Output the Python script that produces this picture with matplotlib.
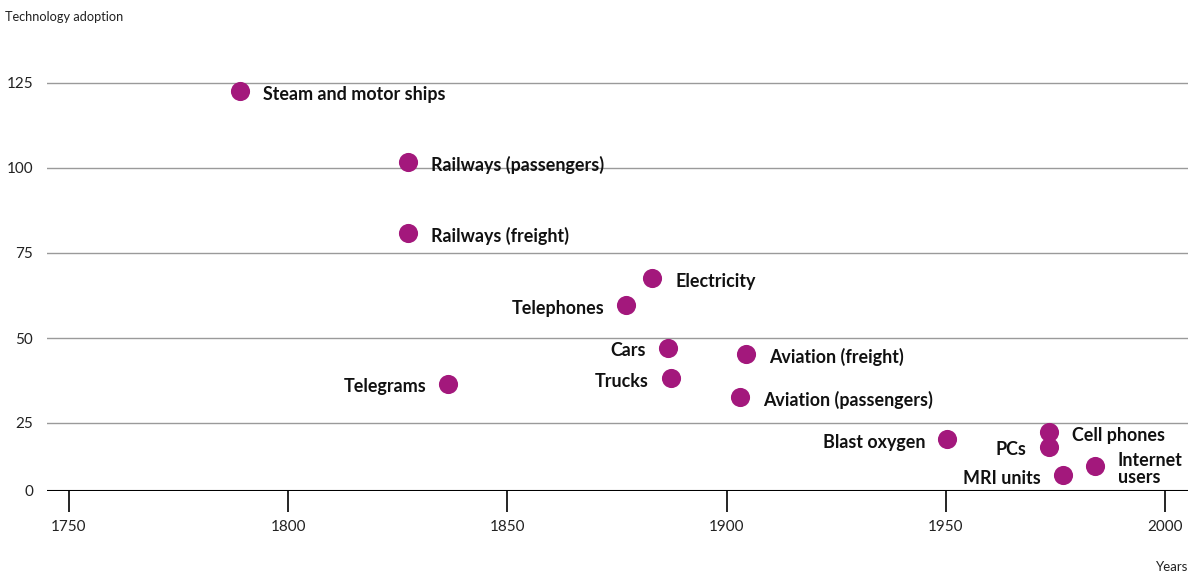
import matplotlib
matplotlib.use("Agg")
import matplotlib.pyplot as plt
import numpy as np

plt.rcParams['font.family'] = ['Lato', 'DejaVu Sans']

## Data
techs = ["Steam and motor ships", "Railways (passengers)", "Railways (freight)",
         "Electricity", "Telephones", "Cars", "Aviation (freight)", "Trucks",
         "Telegrams", "Aviation (passengers)", "Blast oxygen", "Cell phones",
         "PCs", "Internet\nusers", "MRI units"]
years = [1789.0, 1827.3, 1827.3, 1883.0, 1877.1, 1886.6, 1904.4, 1887.3,
         1836.5, 1903.1, 1950.3, 1973.5, 1973.5, 1984.0, 1976.7]
adoption = [122.6, 101.8, 80.9, 67.6, 59.7, 47.1, 45.3, 38.2,
            36.5, 32.6, 19.1, 21.7, 16.2, 9.2, 5.9]
side = ["r", "r", "r", "r", "l", "l", "r", "l", "l", "r", "l", "r", "l", "r", "l"]

xticks = [1750, 1800, 1850, 1900, 1950, 2000]
yticks = [0, 25, 50, 75, 100, 125]

col = "#a3187c"

## the 0-25 band is squeezed in the original
def fwd(y):
    y = np.asarray(y, dtype=float)
    return np.where(y >= 25, y, 25 - (25 - y) * 0.8)

def inv(y):
    y = np.asarray(y, dtype=float)
    return np.where(y >= 25, y, 25 - (25 - y) / 0.8)

fig = plt.figure(figsize=(12.04, 5.84), dpi=100)
ax = fig.add_axes([47/1204, 93/584, 1141/1204, 442/584])
ax.set_yscale('function', functions=(fwd, inv))

ax.scatter(years, adoption, s=190, color=col, zorder=3, linewidths=0)

for name, x, y, s in zip(techs, years, adoption, side):
    if s == "r":
        ax.annotate(name, (x, y), xytext=(16.5, -2.2), textcoords='offset points',
                    ha='left', va='center', fontsize=12.9, fontweight='bold',
                    color='#111111', linespacing=1.0)
    else:
        ax.annotate(name, (x, y), xytext=(-16, -2.2), textcoords='offset points',
                    ha='right', va='center', fontsize=12.9, fontweight='bold',
                    color='#111111')

ax.set_xlim(1745, 2005.2)
ax.set_ylim(0, 135)
ax.set_xticks(xticks)
ax.set_yticks(yticks)
ax.set_yticklabels([str(v) for v in yticks])

for v in yticks[1:]:
    ax.axhline(v, color='#9a9a9a', lw=1, zorder=1)
ax.axhline(0, color='black', lw=1.5, zorder=2)

for sp in ax.spines.values():
    sp.set_visible(False)
ax.tick_params(axis='y', length=0, pad=10, labelsize=11, labelcolor='#222222')
ax.tick_params(axis='x', direction='out', length=15, width=1.2, pad=6,
               labelsize=11, labelcolor='#222222')
ax.xaxis.set_ticks_position('bottom')
ax.minorticks_off()

fig.text(5/1204, 1 - 17/584, "Technology adoption", fontsize=9.2, va='center',
         ha='left', color='#222222')
fig.text(1188/1204, 1 - 567/584, "Years", fontsize=9.5, va='center',
         ha='right', color='#222222')

fig.savefig("out.png", dpi=100)
